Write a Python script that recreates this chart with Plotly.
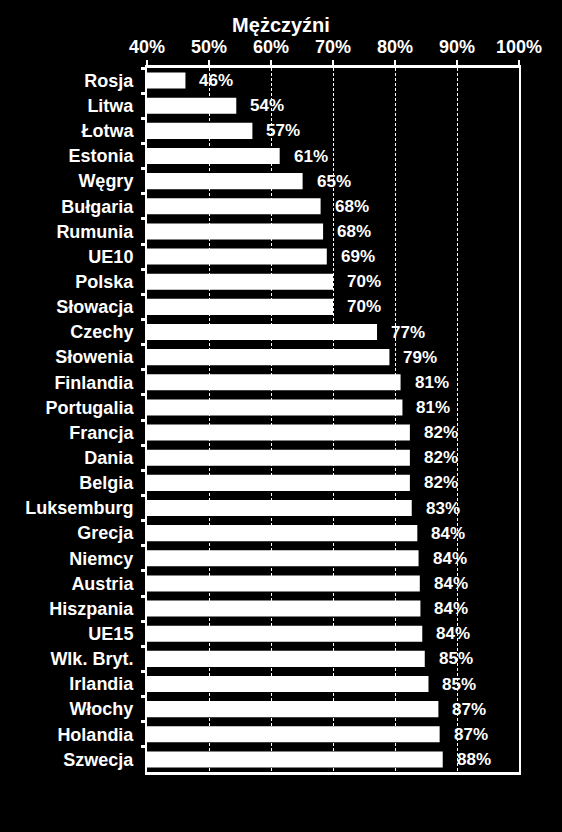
import plotly.graph_objects as go

# --- DATA ---
countries = ['Rosja', 'Litwa', 'Łotwa', 'Estonia', 'Węgry', 'Bułgaria', 'Rumunia', 'UE10',
             'Polska', 'Słowacja', 'Czechy', 'Słowenia', 'Finlandia', 'Portugalia', 'Francja',
             'Dania', 'Belgia', 'Luksemburg', 'Grecja', 'Niemcy', 'Austria', 'Hiszpania',
             'UE15', 'Wlk. Bryt.', 'Irlandia', 'Włochy', 'Holandia', 'Szwecja']
values = [46.2, 54.4, 57.0, 61.4, 65.1, 68.0, 68.4, 69.0,
          70.0, 70.0, 77.1, 79.1, 80.9, 81.2, 82.4,
          82.4, 82.4, 82.7, 83.6, 83.8, 84.0, 84.1,
          84.4, 84.8, 85.4, 87.0, 87.2, 87.7]
labels = ['46%', '54%', '57%', '61%', '65%', '68%', '68%', '69%',
          '70%', '70%', '77%', '79%', '81%', '81%', '82%',
          '82%', '82%', '83%', '84%', '84%', '84%', '84%',
          '84%', '85%', '85%', '87%', '87%', '88%']
tick_vals = [40, 50, 60, 70, 80, 90, 100]
tick_text = ['40%', '50%', '60%', '70%', '80%', '90%', '100%']
TITLE = 'Mężczyźni'
# -------------------------------------

FONT = dict(family='Liberation Sans, Arial, sans-serif', color='white', size=18, weight='bold')

fig = go.Figure()
fig.add_trace(go.Bar(
    x=values, y=countries, orientation='h',
    marker=dict(color='white', line=dict(width=0)),
    hoverinfo='skip',
))

# value labels just right of each bar
for c, v, t in zip(countries, values, labels):
    fig.add_annotation(x=v, y=c, text=t, showarrow=False, xanchor='left', yanchor='middle',
                       xshift=12, font=dict(FONT, size=17))

fig.update_layout(
    width=562, height=832,
    paper_bgcolor='black', plot_bgcolor='black',
    font=FONT,
    margin=dict(l=147, r=43, t=68, b=60),
    bargap=0.36,
    showlegend=False,
    title=dict(text=TITLE, x=0.5, xanchor='center', y=0.97, yanchor='middle',
               font=dict(FONT, size=20)),
)
fig.update_xaxes(
    side='top', range=[40, 100], tickvals=tick_vals, ticktext=tick_text,
    showgrid=True, gridcolor='white', gridwidth=1, griddash='3px,2px',
    showline=True, linecolor='white', linewidth=3, mirror=True,
    ticks='outside', ticklen=5, tickwidth=2, tickcolor='white',
    zeroline=False, fixedrange=True,
)
fig.update_yaxes(
    autorange='reversed', categoryorder='array', categoryarray=countries,
    showline=True, linecolor='white', linewidth=2, mirror=True,
    ticks='outside', tickson='boundaries', ticklen=4, tickwidth=3, tickcolor='white',
    showgrid=False, ticklabelstandoff=8, fixedrange=True,
)

# drop the page's default body margin so the figure fills the window
fig.write_html('out.html', config={'displayModeBar': False},
               post_script="document.body.style.margin='0';document.body.style.background='black';")
